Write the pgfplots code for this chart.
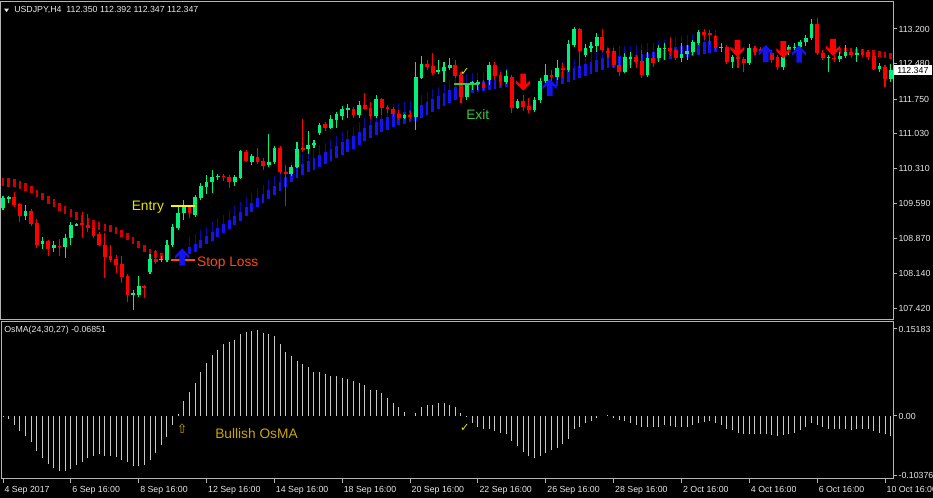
\documentclass[border=0pt]{standalone}
\usepackage{fontspec}
\setmainfont{Liberation Sans}
\newfontfamily\dejavu{DejaVu Sans}
\usepackage{pgfplots}
\usepackage{pgfplotstable}
\pgfplotsset{compat=1.18}

\definecolor{bull}{HTML}{00F07A}
\definecolor{bear}{HTML}{FF0000}
\definecolor{sigred}{HTML}{D00000}
\definecolor{sigblue}{HTML}{1414F0}
\definecolor{sigbluedk}{HTML}{0A0AA0}
\definecolor{frame}{HTML}{B4B4B4}
\definecolor{lbl}{HTML}{E8E8E8}
\definecolor{osma}{HTML}{C8C8C8}
\definecolor{entryc}{HTML}{E8E800}
\definecolor{stopc}{HTML}{FF4A10}
\definecolor{exitc}{HTML}{3CC83C}
\definecolor{bullosma}{HTML}{C8A800}

\def\lblfont{\fontsize{6.6}{7.9}\selectfont}
\def\annfont{\fontsize{10.3}{12}\selectfont}

\pgfdeclareplotmark{uparr}{%
 \pgfpathmoveto{\pgfqpoint{0pt}{6.4pt}}%
 \pgfpathlineto{\pgfqpoint{5.25pt}{1.0pt}}%
 \pgfpathlineto{\pgfqpoint{5.25pt}{-1.2pt}}%
 \pgfpathlineto{\pgfqpoint{2.1pt}{1.6pt}}%
 \pgfpathlineto{\pgfqpoint{2.1pt}{-6.4pt}}%
 \pgfpathlineto{\pgfqpoint{-2.1pt}{-6.4pt}}%
 \pgfpathlineto{\pgfqpoint{-2.1pt}{1.6pt}}%
 \pgfpathlineto{\pgfqpoint{-5.25pt}{-1.2pt}}%
 \pgfpathlineto{\pgfqpoint{-5.25pt}{1.0pt}}%
 \pgfpathclose\pgfusepathqfill}
\pgfdeclareplotmark{dnarr}{%
 \pgfpathmoveto{\pgfqpoint{0pt}{-6.4pt}}%
 \pgfpathlineto{\pgfqpoint{5.25pt}{-1.0pt}}%
 \pgfpathlineto{\pgfqpoint{5.25pt}{1.2pt}}%
 \pgfpathlineto{\pgfqpoint{2.1pt}{-1.6pt}}%
 \pgfpathlineto{\pgfqpoint{2.1pt}{6.4pt}}%
 \pgfpathlineto{\pgfqpoint{-2.1pt}{6.4pt}}%
 \pgfpathlineto{\pgfqpoint{-2.1pt}{-1.6pt}}%
 \pgfpathlineto{\pgfqpoint{-5.25pt}{1.2pt}}%
 \pgfpathlineto{\pgfqpoint{-5.25pt}{-1.0pt}}%
 \pgfpathclose\pgfusepathqfill}

% bullish candles: bar, high, body top, body bottom, low
\pgfplotstableread{
i hi bt bb lo
0 109.74 109.70 109.49 109.45
1 109.74 109.72 109.68 109.60
4 109.56 109.43 109.33 109.25
7 108.89 108.81 108.75 108.65
9 108.81 108.73 108.67 108.58
11 108.96 108.87 108.69 108.46
12 109.20 109.14 108.87 108.73
13 109.18 109.16 109.14 109.12
23 107.80 107.74 107.71 107.38
24 108.09 107.88 107.69 107.65
26 108.54 108.44 108.17 108.13
28 108.50 108.44 108.42 108.38
29 108.83 108.73 108.42 108.38
30 109.16 109.10 108.73 108.69
31 109.56 109.39 109.08 109.04
32 109.66 109.52 109.39 109.25
34 109.76 109.72 109.35 109.31
35 110.01 109.95 109.70 109.66
36 110.18 110.03 109.93 109.78
37 110.28 110.14 110.03 109.80
38 110.20 110.16 110.14 110.07
41 110.18 110.14 110.03 109.95
42 110.70 110.67 110.12 110.09
44 110.61 110.57 110.45 110.38
47 111.03 110.45 110.38 110.34
48 110.78 110.74 110.45 110.40
51 110.38 110.34 110.20 110.16
52 110.86 110.72 110.34 110.32
54 111.09 110.80 110.72 110.61
55 110.90 110.84 110.80 110.74
56 111.25 111.21 111.05 111.01
58 111.42 111.34 111.15 111.13
59 111.48 111.44 111.32 111.15
60 111.61 111.54 111.40 111.32
61 111.65 111.56 111.52 111.36
63 111.71 111.63 111.42 111.36
66 111.83 111.75 111.40 111.36
71 111.44 111.42 111.36 111.34
73 112.52 112.21 111.38 111.11
74 112.64 112.48 112.19 112.16
77 112.56 112.35 112.31 112.27
78 112.52 112.41 112.33 112.10
79 112.60 112.46 112.39 112.35
82 112.08 112.04 111.79 111.73
83 112.12 112.10 112.08 111.94
84 112.14 112.10 112.06 111.94
86 112.52 112.46 112.14 112.04
89 112.35 112.23 112.10 112.06
91 111.75 111.71 111.56 111.54
94 111.79 111.73 111.52 111.48
95 112.19 112.12 111.73 111.67
96 112.48 112.25 112.12 112.08
98 112.56 112.39 112.21 112.14
100 112.97 112.89 112.35 112.31
101 113.24 113.20 112.87 112.83
103 112.89 112.81 112.66 112.62
104 112.93 112.85 112.81 112.72
105 113.12 113.03 112.85 112.72
110 112.70 112.62 112.31 112.29
111 112.72 112.62 112.58 112.39
114 112.72 112.60 112.25 112.21
116 112.87 112.81 112.60 112.52
117 112.91 112.81 112.79 112.56
120 112.91 112.68 112.60 112.52
121 112.87 112.74 112.68 112.56
122 112.97 112.93 112.72 112.66
123 113.18 113.14 112.91 112.87
127 112.91 112.83 112.81 112.72
129 112.66 112.62 112.52 112.39
132 112.89 112.81 112.50 112.46
135 112.85 112.81 112.74 112.68
138 112.66 112.62 112.41 112.35
139 112.87 112.83 112.77 112.66
140 112.91 112.83 112.81 112.77
141 112.97 112.93 112.83 112.77
142 113.08 113.01 112.93 112.85
143 113.41 113.30 113.01 112.97
146 112.66 112.62 112.60 112.31
148 112.72 112.64 112.58 112.52
149 112.87 112.72 112.64 112.60
151 112.83 112.70 112.68 112.52
155 112.50 112.43 112.37 112.31
157 112.48 112.35 112.16 112.10
}\bulltab

% bearish candles
\pgfplotstableread{
i hi bt bb lo
2 109.83 109.72 109.56 109.52
3 109.60 109.58 109.33 109.20
5 109.47 109.43 109.16 109.12
6 109.27 109.18 108.73 108.67
8 108.83 108.81 108.65 108.50
10 108.85 108.71 108.69 108.50
14 109.41 109.18 109.14 108.87
15 109.37 109.14 109.08 109.00
16 109.14 109.08 108.91 108.87
17 109.00 108.96 108.73 108.71
18 108.98 108.73 108.48 108.05
19 108.73 108.50 108.42 108.38
20 108.52 108.44 108.31 108.15
21 108.50 108.34 108.07 107.94
22 108.13 108.09 107.69 107.55
25 107.90 107.88 107.84 107.63
27 108.63 108.44 108.38 108.34
33 109.56 109.52 109.39 109.29
39 110.20 110.16 110.14 110.05
40 110.18 110.14 110.03 109.91
43 110.70 110.65 110.47 110.45
45 110.74 110.55 110.45 110.40
46 110.53 110.47 110.36 110.28
49 110.78 110.74 110.24 110.20
50 110.38 110.24 110.20 109.54
53 111.34 110.74 110.70 110.65
57 111.27 111.23 111.15 111.09
62 111.59 111.54 111.42 111.36
64 111.87 111.63 111.54 111.52
65 111.69 111.56 111.40 111.34
67 111.77 111.75 111.56 111.42
68 111.63 111.59 111.56 111.46
69 111.59 111.54 111.44 111.38
70 111.52 111.44 111.36 111.32
72 111.50 111.42 111.38 111.34
75 112.56 112.48 112.41 112.35
76 112.70 112.43 112.29 112.25
80 112.56 112.46 112.23 112.19
81 112.31 112.25 111.79 111.67
85 112.14 112.08 111.98 111.94
87 112.52 112.46 112.23 112.14
88 112.31 112.25 112.10 112.02
90 112.25 112.21 111.56 111.46
92 111.83 111.71 111.59 111.50
93 111.77 111.61 111.52 111.46
97 112.35 112.25 112.21 112.04
99 112.50 112.39 112.35 112.19
102 113.22 113.20 112.74 112.39
106 113.20 113.03 112.77 112.72
107 112.81 112.74 112.70 112.60
108 112.81 112.74 112.46 112.41
109 112.62 112.46 112.31 112.23
112 112.66 112.62 112.52 112.39
113 112.77 112.54 112.25 112.19
115 112.72 112.60 112.50 112.41
118 113.03 112.81 112.74 112.64
119 112.79 112.77 112.60 112.56
124 113.20 113.14 113.08 112.97
125 113.18 113.12 113.08 112.87
126 113.08 113.05 112.81 112.77
128 112.87 112.83 112.52 112.48
130 112.66 112.62 112.58 112.39
131 112.62 112.58 112.50 112.31
133 112.85 112.81 112.72 112.66
134 112.83 112.79 112.74 112.68
136 112.77 112.70 112.56 112.50
137 112.66 112.62 112.41 112.35
144 113.43 113.30 112.70 112.66
145 112.77 112.70 112.60 112.56
147 112.66 112.60 112.58 112.52
150 112.77 112.72 112.66 112.60
152 112.79 112.72 112.66 112.62
153 112.77 112.72 112.62 112.56
154 112.72 112.64 112.37 112.35
156 112.46 112.41 112.16 112.00
}\beartab

% red trailing-signal dashes: bar, top, bottom
\pgfplotstableread{
i t b
0 110.12 109.95
1 110.12 109.93
2 110.09 109.93
3 110.05 109.89
4 110.01 109.85
5 109.95 109.80
6 109.87 109.72
7 109.80 109.66
8 109.74 109.58
9 109.68 109.52
10 109.60 109.43
11 109.54 109.37
12 109.47 109.31
13 109.41 109.25
14 109.35 109.18
15 109.29 109.14
16 109.25 109.08
17 109.20 109.04
18 109.16 109.02
19 109.14 109.00
20 109.10 108.96
21 109.04 108.89
22 108.98 108.83
23 108.89 108.75
24 108.81 108.67
25 108.73 108.58
26 108.65 108.50
27 108.60 108.46
28 108.56 108.42
29 108.54 108.40
148 112.81 112.68
149 112.81 112.68
150 112.81 112.68
151 112.79 112.66
152 112.79 112.66
153 112.77 112.64
154 112.77 112.64
155 112.74 112.62
156 112.72 112.60
157 112.70 112.58
}\sigredtab

% blue trailing-signal dashes: bar, thin-line top, bar top, bar bottom
\pgfplotstableread{
i w t b
33 108.89 108.69 108.54
34 108.95 108.75 108.58
35 109.03 108.83 108.67
36 109.11 108.91 108.75
37 109.20 109.00 108.81
38 109.28 109.08 108.89
39 109.36 109.16 108.98
40 109.45 109.25 109.06
41 109.53 109.33 109.14
42 109.61 109.41 109.23
43 109.72 109.52 109.33
44 109.80 109.60 109.41
45 109.90 109.70 109.52
46 109.98 109.78 109.60
47 110.07 109.87 109.68
48 110.15 109.95 109.76
49 110.23 110.03 109.85
50 110.34 110.14 109.93
51 110.44 110.24 110.03
52 110.52 110.32 110.12
53 110.61 110.41 110.18
54 110.67 110.47 110.24
55 110.73 110.53 110.28
56 110.79 110.59 110.34
57 110.85 110.65 110.41
58 110.92 110.72 110.47
59 110.98 110.78 110.53
60 111.06 110.86 110.59
61 111.12 110.92 110.65
62 111.18 110.98 110.72
63 111.27 111.07 110.80
64 111.35 111.15 110.88
65 111.41 111.21 110.94
66 111.47 111.27 111.01
67 111.54 111.34 111.07
68 111.58 111.38 111.11
69 111.64 111.44 111.17
70 111.66 111.46 111.21
71 111.68 111.48 111.23
72 111.72 111.52 111.27
73 111.76 111.56 111.30
74 111.83 111.63 111.36
75 111.89 111.69 111.42
76 111.95 111.75 111.48
77 112.01 111.81 111.54
78 112.07 111.87 111.61
79 112.14 111.94 111.67
80 112.20 112.00 111.73
81 112.24 112.04 111.79
82 112.26 112.06 111.83
83 112.28 112.08 111.87
84 112.30 112.10 111.90
85 112.32 112.12 111.92
86 112.34 112.14 111.94
87 112.34 112.14 111.96
88 112.36 112.16 111.98
89 112.39 112.19 112.00
98 112.47 112.27 112.02
99 112.51 112.31 112.06
100 112.55 112.35 112.10
101 112.59 112.39 112.14
102 112.63 112.43 112.19
103 112.68 112.48 112.23
104 112.72 112.52 112.27
105 112.76 112.56 112.31
106 112.80 112.60 112.35
107 112.84 112.64 112.39
108 112.84 112.64 112.39
109 112.84 112.64 112.39
110 112.84 112.64 112.43
111 112.84 112.64 112.46
112 112.86 112.66 112.48
113 112.88 112.68 112.48
114 112.90 112.70 112.50
115 112.92 112.72 112.52
116 112.94 112.74 112.54
117 112.97 112.77 112.56
118 113.01 112.81 112.58
119 113.03 112.83 112.60
120 113.05 112.85 112.62
121 113.07 112.87 112.62
122 113.09 112.89 112.64
123 113.11 112.91 112.66
124 113.13 112.93 112.68
125 113.15 112.95 112.70
126 113.17 112.97 112.72
}\sigbluetab

% OsMA histogram
\pgfplotstableread{
i v
0 -0.001
1 -0.006
2 -0.015
3 -0.026
4 -0.035
5 -0.045
6 -0.061
7 -0.073
8 -0.084
9 -0.090
10 -0.096
11 -0.096
12 -0.092
13 -0.086
14 -0.080
15 -0.073
16 -0.069
17 -0.067
18 -0.070
19 -0.070
20 -0.071
21 -0.076
22 -0.081
23 -0.087
24 -0.088
25 -0.086
26 -0.076
27 -0.064
28 -0.051
29 -0.036
30 -0.016
31 0.003
32 0.026
33 0.041
34 0.058
35 0.077
36 0.093
37 0.106
38 0.116
39 0.125
40 0.129
41 0.133
42 0.143
43 0.147
44 0.148
45 0.150
46 0.144
47 0.143
48 0.140
49 0.125
50 0.112
51 0.104
52 0.096
53 0.091
54 0.086
55 0.077
56 0.076
57 0.073
58 0.070
59 0.069
60 0.067
61 0.065
62 0.061
63 0.057
64 0.054
65 0.045
66 0.045
67 0.040
68 0.032
69 0.023
70 0.015
71 0.007
72 0.000
73 0.006
74 0.015
75 0.019
76 0.020
77 0.022
78 0.022
79 0.020
80 0.016
81 0.005
82 -0.001
83 -0.012
84 -0.019
85 -0.022
86 -0.022
87 -0.026
88 -0.029
89 -0.032
90 -0.044
91 -0.052
92 -0.063
93 -0.070
94 -0.073
95 -0.070
96 -0.064
97 -0.059
98 -0.055
99 -0.049
100 -0.040
101 -0.023
102 -0.020
103 -0.013
104 -0.009
105 -0.003
106 0.000
107 0.001
108 -0.003
109 -0.007
110 -0.009
111 -0.012
112 -0.016
113 -0.020
114 -0.020
115 -0.020
116 -0.019
117 -0.016
118 -0.017
119 -0.019
120 -0.019
121 -0.019
122 -0.016
123 -0.013
124 -0.010
125 -0.009
126 -0.012
127 -0.015
128 -0.022
129 -0.024
130 -0.029
131 -0.032
132 -0.032
133 -0.032
134 -0.032
135 -0.032
136 -0.034
137 -0.035
138 -0.034
139 -0.032
140 -0.029
141 -0.024
142 -0.020
143 -0.012
144 -0.016
145 -0.019
146 -0.022
147 -0.023
148 -0.022
149 -0.023
150 -0.024
151 -0.022
152 -0.023
153 -0.022
154 -0.026
155 -0.029
156 -0.032
157 -0.035
}\osmatab

\pgfplotsset{
 mtaxis/.style={scale only axis, width=669pt, anchor=south west, clip=false,
  axis line style={draw=frame, line width=0.75pt},
  tick style={draw=frame, line width=0.75pt},
  major tick length=3pt, tick align=outside,
  ytick pos=right, yticklabel pos=right,
  yticklabel style={font=\lblfont, text=lbl, inner sep=0pt, anchor=west, xshift=1pt},
  xmin=-0.354, xmax=157.41, scaled y ticks=false},
 vbar/.style 2 args={draw=none, mark=none, mark size=0pt, forget plot,
  error bars/.cd, y dir=both, y explicit, error mark=none,
  error bar style={draw=#1, line width=#2}},
}

\begin{document}
\begin{tikzpicture}
\path[use as bounding box] (0,0) rectangle (699.75pt,373.5pt);
\fill[black] (0,0) rectangle (699.75pt,373.5pt);
\clip (0,0) rectangle (699.75pt,373.5pt);

% ---------------- price panel ----------------
\begin{axis}[mtaxis, at={(0.75pt,133.5pt)}, height=238.5pt,
  ymin=107.176, ymax=113.759, xtick=\empty,
  ytick={113.2,112.48,111.75,111.03,110.31,109.59,108.87,108.14,107.42},
  yticklabels={113.200,112.480,111.750,111.030,110.310,109.590,108.870,108.140,107.420}]

\addplot[vbar={sigred}{1.9pt}] table[x=i, y expr={(\thisrow{t}+\thisrow{b})/2}, y error expr={(\thisrow{t}-\thisrow{b})/2}] {\sigredtab};
\addplot[vbar={sigbluedk}{0.75pt}] table[x=i, y expr={(\thisrow{w}+\thisrow{b})/2}, y error expr={(\thisrow{w}-\thisrow{b})/2}] {\sigbluetab};
\addplot[vbar={sigblue}{2.1pt}] table[x=i, y expr={(\thisrow{t}+\thisrow{b})/2}, y error expr={(\thisrow{t}-\thisrow{b})/2}] {\sigbluetab};

\addplot[vbar={bull}{0.8pt}] table[x=i, y expr={(\thisrow{hi}+\thisrow{lo})/2}, y error expr={(\thisrow{hi}-\thisrow{lo})/2}] {\bulltab};
\addplot[vbar={bull}{2.8pt}] table[x=i, y expr={(\thisrow{bt}+\thisrow{bb})/2}, y error expr={(\thisrow{bt}-\thisrow{bb})/2}] {\bulltab};
\addplot[vbar={bear}{0.8pt}] table[x=i, y expr={(\thisrow{hi}+\thisrow{lo})/2}, y error expr={(\thisrow{hi}-\thisrow{lo})/2}] {\beartab};
\addplot[vbar={bear}{2.8pt}] table[x=i, y expr={(\thisrow{bt}+\thisrow{bb})/2}, y error expr={(\thisrow{bt}-\thisrow{bb})/2}] {\beartab};

% signal arrows
\addplot[only marks, mark=uparr, color=sigblue, forget plot] coordinates {(31.7,108.48) (96.7,111.99) (134.9,112.69) (140.8,112.68)};
\addplot[only marks, mark=dnarr, color=bear, forget plot] coordinates {(92.0,112.10) (129.9,112.80) (138.0,112.77) (146.8,112.82)};

% trade levels
\addplot[color=yellow, line width=1.5pt, forget plot] coordinates {(29.7,109.54) (34.0,109.54)};
\addplot[color=stopc, line width=1.5pt, forget plot] coordinates {(29.7,108.42) (34.0,108.42)};
\addplot[color=exitc, line width=1.5pt, forget plot] coordinates {(79.8,112.06) (84.2,112.06)};

\node[anchor=base east, inner sep=0pt, text=entryc, font=\annfont] at (axis cs:28.5,109.45) {Entry};
\node[anchor=base west, inner sep=0pt, text=stopc, font=\annfont] at (axis cs:34.3,108.29) {Stop Loss};
\node[anchor=base west, inner sep=0pt, text=exitc, font=\annfont] at (axis cs:81.9,111.32) {Exit};
\node[inner sep=0pt, text=entryc, font=\dejavu\fontsize{8.5}{9}\selectfont] at (axis cs:81.7,112.31) {✓};
\coordinate (lastp) at (axis cs:157.41,112.347);
\end{axis}

% ---------------- OsMA panel ----------------
\begin{axis}[mtaxis, at={(0.75pt,14.25pt)}, height=117.75pt,
  ymin=-0.10995, ymax=0.16405,
  xtick={0,12,...,156}, xtick pos=left, xticklabel pos=left,
  xticklabels={4 Sep 2017,6 Sep 16:00,8 Sep 16:00,12 Sep 16:00,14 Sep 16:00,18 Sep 16:00,20 Sep 16:00,22 Sep 16:00,26 Sep 16:00,28 Sep 16:00,2 Oct 16:00,4 Oct 16:00,6 Oct 16:00,10 Oct 16:00},
  xticklabel style={font=\lblfont, text=lbl, inner sep=0pt, anchor=north west, xshift=1pt, yshift=-2pt},
  ytick={-0.10376,0,0.15183}, yticklabels={-0.10376,0.00,0.15183}]
\addplot[ycomb, draw=osma, line width=0.75pt, mark=none] table[x=i, y=v] {\osmatab};
\node[inner sep=0pt, text=bullosma, font=\dejavu\fontsize{9.5}{10}\selectfont] at (axis cs:31.7,-0.022) {⇧};
\node[inner sep=0pt, text=entryc, font=\dejavu\fontsize{8.5}{9}\selectfont] at (axis cs:81.7,-0.021) {✓};
\node[anchor=base west, inner sep=0pt, text=bullosma, font=\annfont] at (axis cs:37.5,-0.039) {Bullish OsMA};
\end{axis}

% current price box
\node[anchor=west, fill=white, text=black, inner xsep=2.5pt, inner ysep=1.2pt, font=\lblfont, xshift=0.5pt] at (lastp) {112.347};

% panel titles
\fill[lbl] (3pt,367.1pt) -- (6.8pt,367.1pt) -- (4.9pt,364.4pt) -- cycle;
\node[anchor=base west, inner sep=0pt, text=lbl, font=\lblfont] at (10.5pt,363.75pt) {USDJPY,H4\ \ 112.350 112.392 112.347 112.347};
\node[anchor=base west, inner sep=0pt, text=lbl, font=\lblfont] at (3pt,123.75pt) {OsMA(24,30,27) -0.06851};
\end{tikzpicture}
\end{document}
